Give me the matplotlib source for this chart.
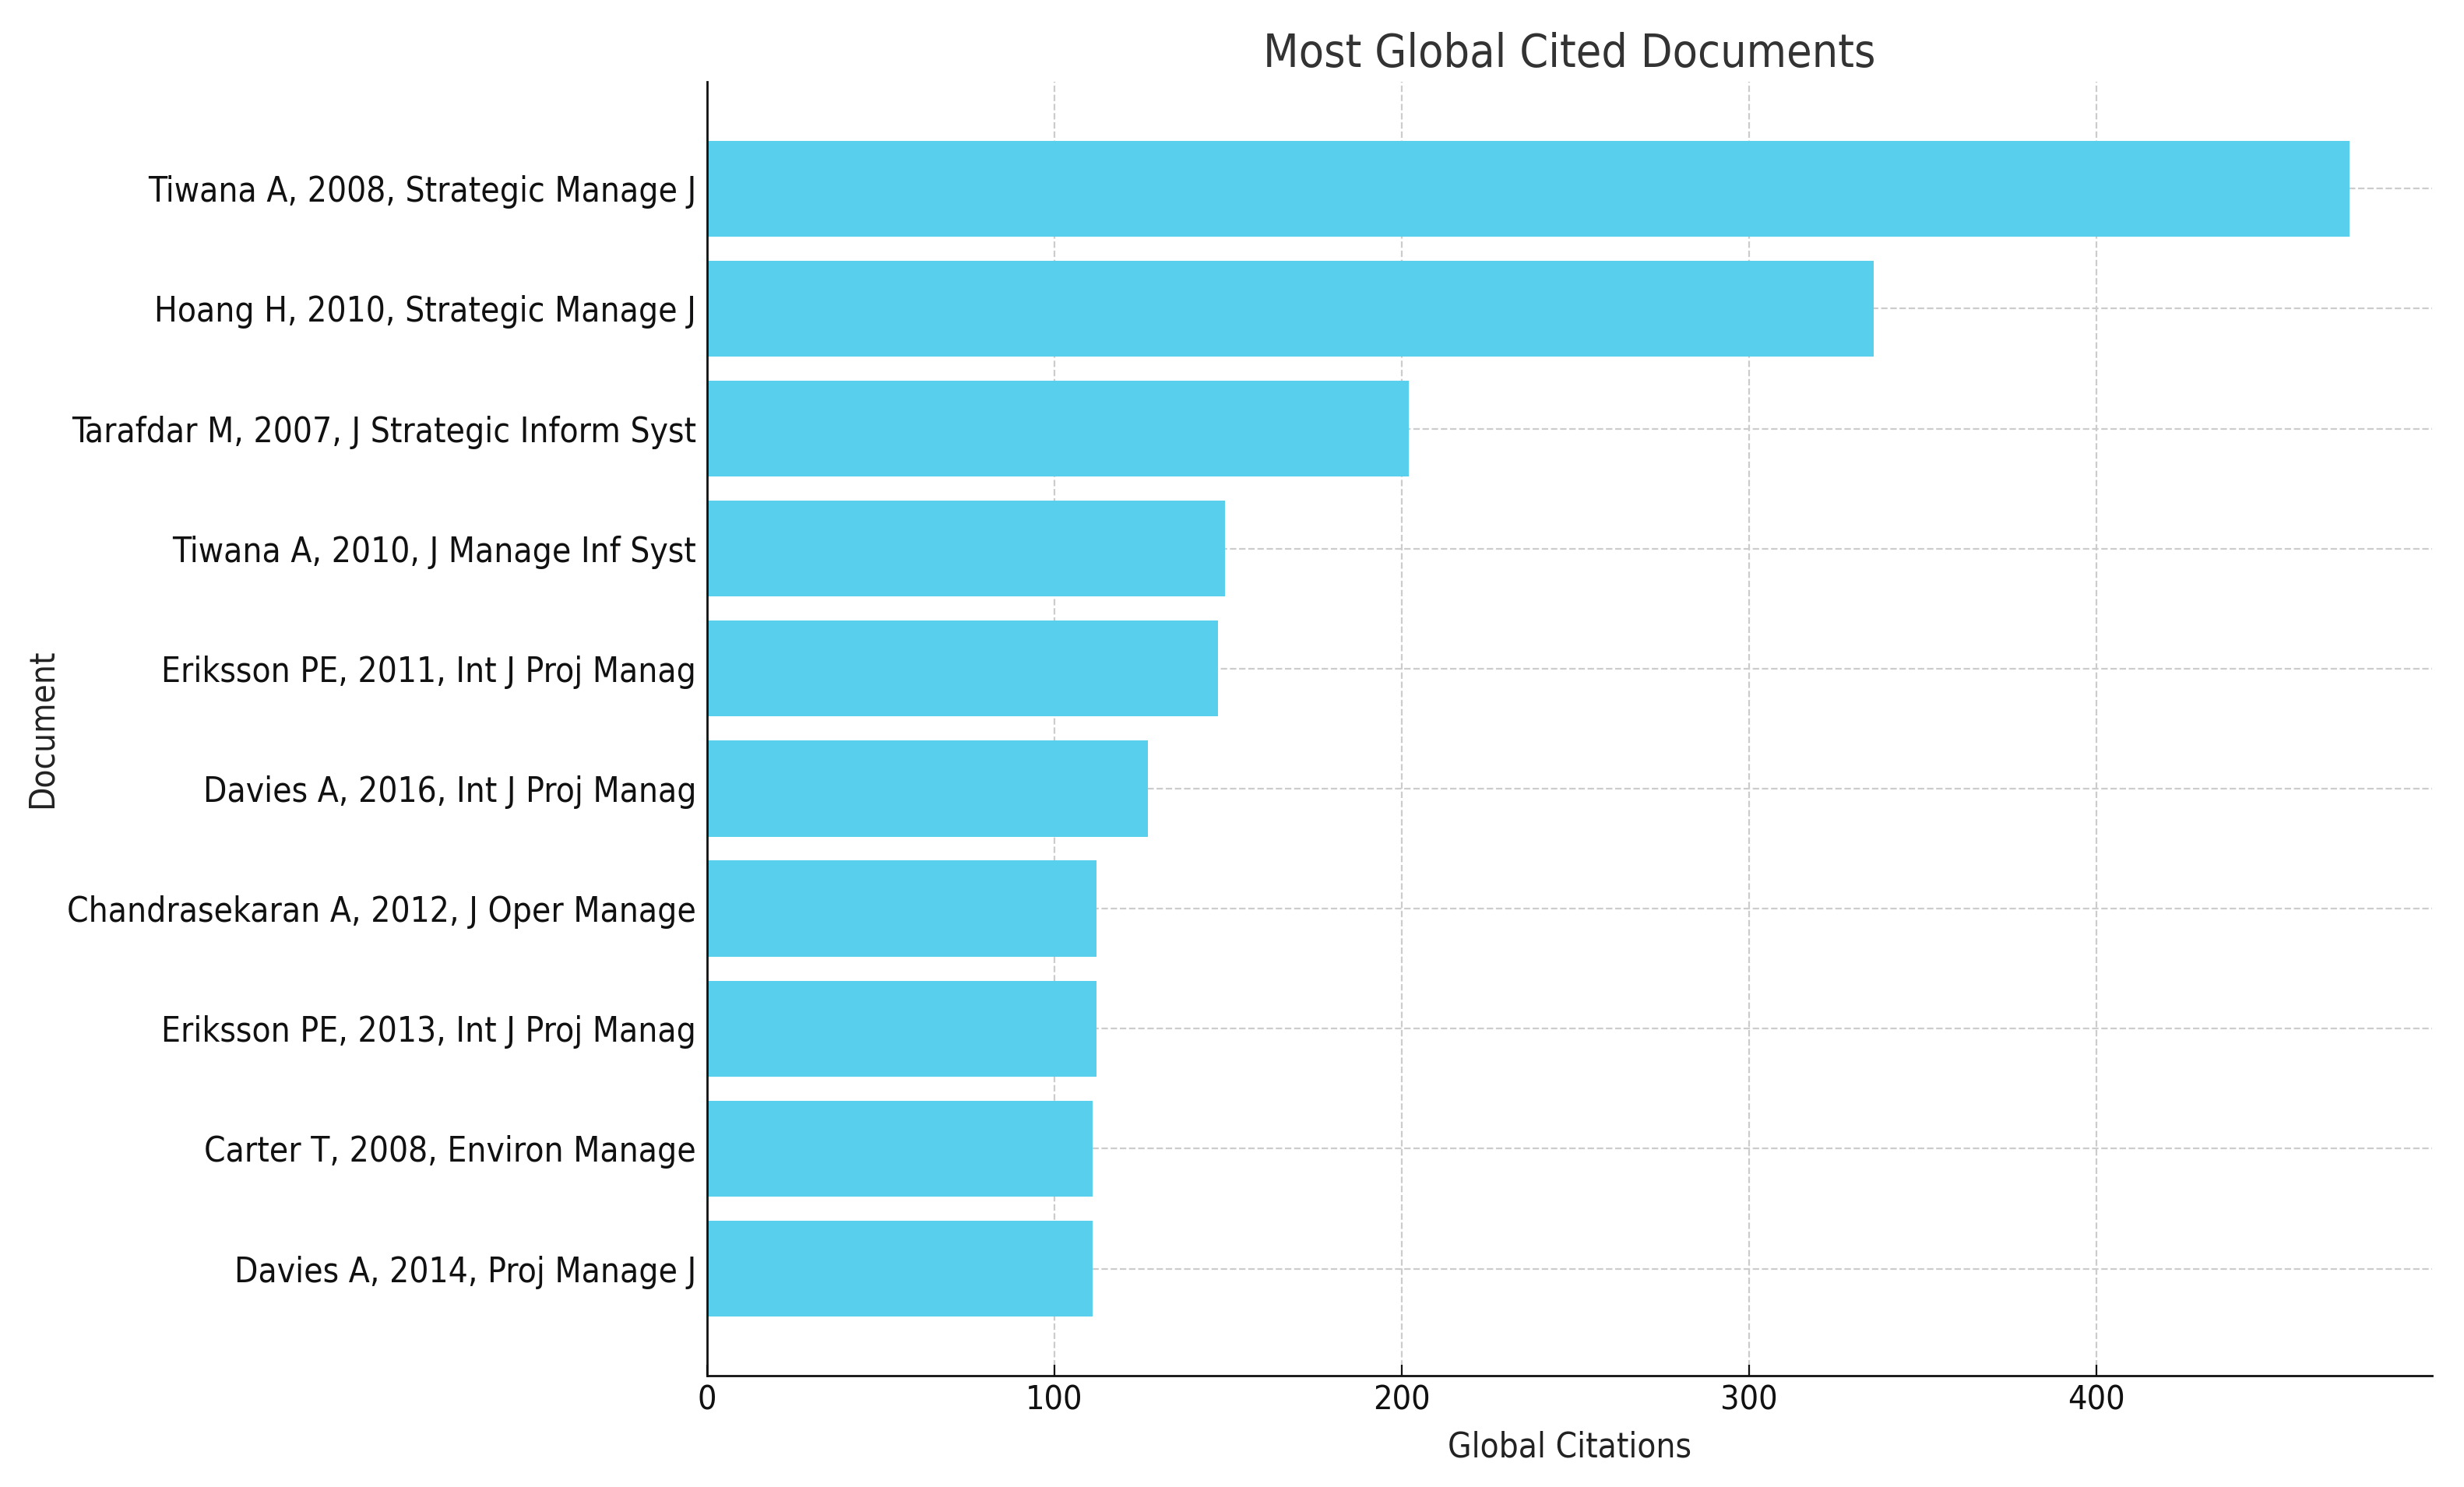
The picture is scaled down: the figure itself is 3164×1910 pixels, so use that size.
import matplotlib
matplotlib.use("Agg")
import matplotlib.pyplot as plt
from matplotlib import font_manager

documents = [
    "Tiwana A, 2008, Strategic Manage J",
    "Hoang H, 2010, Strategic Manage J",
    "Tarafdar M, 2007, J Strategic Inform Syst",
    "Tiwana A, 2010, J Manage Inf Syst",
    "Eriksson PE, 2011, Int J Proj Manag",
    "Davies A, 2016, Int J Proj Manag",
    "Chandrasekaran A, 2012, J Oper Manage",
    "Eriksson PE, 2013, Int J Proj Manag",
    "Carter T, 2008, Environ Manage",
    "Davies A, 2014, Proj Manage J",
]
citations = [473, 336, 202, 149, 147, 127, 112, 112, 111, 111]

# pick a condensed face if one is installed
has_condensed = any(f.name == 'DejaVu Sans' and f.stretch == 'condensed'
                    for f in font_manager.fontManager.ttflist)
plt.rcParams['font.family'] = ['DejaVu Sans']
if has_condensed:
    plt.rcParams['font.stretch'] = 'condensed'
    k = 1.0
else:
    k = 0.88

fig = plt.figure(figsize=(15.82, 9.55), dpi=200)
ax = fig.add_axes([0.287, 0.075, 0.700, 0.870])

ax.barh(documents[::-1], citations[::-1], color='#58CFEC', height=0.8, zorder=2)

ax.set_title("Most Global Cited Documents", fontsize=21.2 * k, color='#333333', pad=7)
ax.set_xlabel("Global Citations", fontsize=15.8 * k, color='#222222', labelpad=6.5)
ax.set_ylabel("Document", fontsize=15.8 * k, color='#222222', labelpad=4)
ax.tick_params(axis='y', labelsize=15.85 * k, direction='in', length=5, pad=5,
               colors='#111111')
ax.tick_params(axis='x', labelsize=15.5 * k, direction='in', length=5, pad=4,
               colors='#111111')

ax.grid(True, linestyle='--', color='#cccccc', linewidth=0.8, zorder=0)
ax.set_axisbelow(True)
for s in ['top', 'right']:
    ax.spines[s].set_visible(False)
for s in ['left', 'bottom']:
    ax.spines[s].set_linewidth(1.0)
    ax.spines[s].set_color('#111111')

fig.savefig("out.png", dpi=200)
